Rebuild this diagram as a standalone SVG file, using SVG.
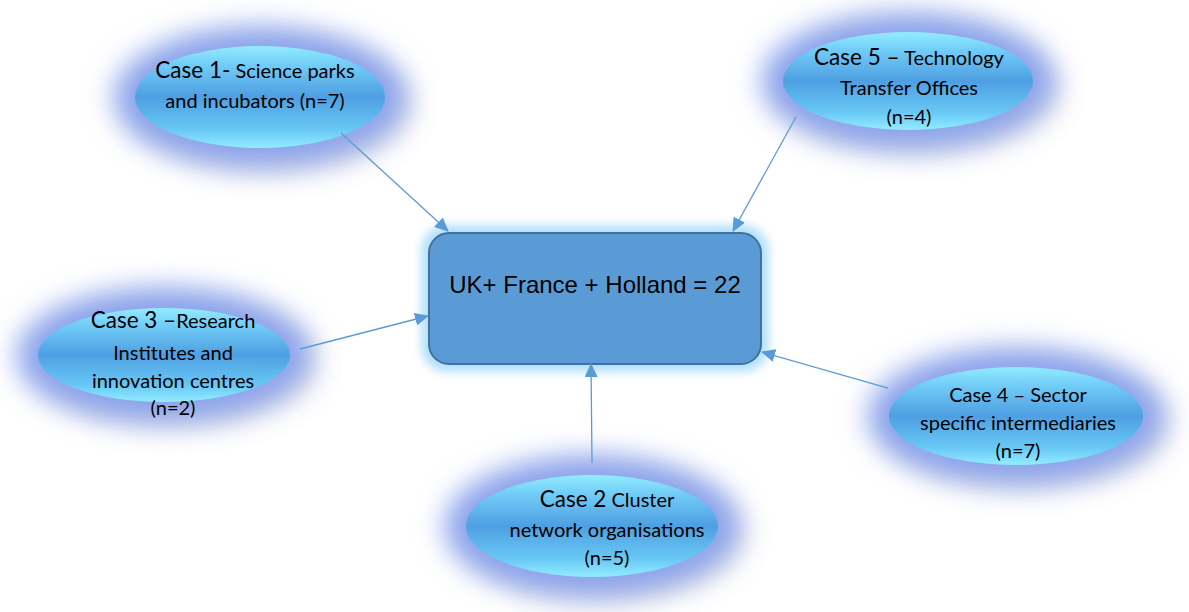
<svg xmlns="http://www.w3.org/2000/svg" width="1189" height="612" viewBox="0 0 1189 612">
<style>
  .halo { fill: #8AA3EC; filter: url(#blur16); }
  .shadow { fill: #9A9CAE; opacity: 0.4; filter: url(#blur16); }
  .ell { fill: url(#ellGrad); }
  .t { font-family: Lato, "Noto Sans", "Liberation Sans", sans-serif; font-size: 20px; fill: #000; text-anchor: middle; }
  .big { font-size: 22.5px; }
  .conn { stroke: #5B9BD5; stroke-width: 1.3; fill: none; marker-end: url(#arrow); }
  .boxglow { fill: #B2E0FA; filter: url(#blur6); }
  .box { fill: #5B9BD5; stroke: #41719C; stroke-width: 2; }
  .boxt { font-family: "Liberation Sans", Arial, sans-serif; font-size: 24px; fill: #000; text-anchor: middle; }
</style>
<defs>
  <filter id="blur16" x="-50%" y="-50%" width="200%" height="200%"><feGaussianBlur stdDeviation="14"/></filter>
  <filter id="blur6" x="-30%" y="-30%" width="160%" height="160%"><feGaussianBlur stdDeviation="5"/></filter>
  <linearGradient id="ellGrad" x1="0" y1="0" x2="0" y2="1">
    <stop offset="0" stop-color="#93ECFF"/>
    <stop offset="0.18" stop-color="#72CDF7"/>
    <stop offset="0.5" stop-color="#4E9FE2"/>
    <stop offset="0.82" stop-color="#68C8F5"/>
    <stop offset="1" stop-color="#93ECFF"/>
  </linearGradient>
  <marker id="arrow" viewBox="0 0 14 13" refX="13" refY="6.5" markerWidth="14" markerHeight="13" markerUnits="userSpaceOnUse" orient="auto">
    <path d="M0,0 L14,6.5 L0,13 Z" fill="#5B9BD5"/>
  </marker>
</defs>

<g id="case1">
  <ellipse class="shadow" cx="270" cy="106" rx="140" ry="64"/>
  <ellipse class="halo" cx="260" cy="97" rx="146" ry="70"/>
  <ellipse class="ell" cx="260" cy="97" rx="125" ry="51"/>
  <text class="t" x="255" y="78"><tspan class="big">Case 1-</tspan> Science parks</text>
  <text class="t" x="255" y="108">and incubators (n=7)</text>
</g>

<g id="case5">
  <ellipse class="shadow" cx="918" cy="90" rx="140" ry="62"/>
  <ellipse class="halo" cx="908" cy="81" rx="146" ry="68"/>
  <ellipse class="ell" cx="908" cy="81" rx="125" ry="49"/>
  <text class="t" x="909" y="65"><tspan class="big">Case 5 –</tspan> Technology</text>
  <text class="t" x="909" y="95">Transfer Offices</text>
  <text class="t" x="909" y="124">(n=4)</text>
</g>

<g id="case3">
  <ellipse class="shadow" cx="174" cy="364" rx="141" ry="61"/>
  <ellipse class="halo" cx="164" cy="355" rx="147" ry="67"/>
  <ellipse class="ell" cx="164" cy="355" rx="126" ry="47"/>
  <text class="t" x="173" y="328"><tspan class="big">Case 3 –</tspan>Research</text>
  <text class="t" x="173" y="360">Institutes and</text>
  <text class="t" x="173" y="388">innovation centres</text>
  <text class="t" x="173" y="415">(n=2)</text>
</g>

<g id="case4">
  <ellipse class="shadow" cx="1026" cy="425" rx="142" ry="62"/>
  <ellipse class="halo" cx="1016" cy="416" rx="148" ry="68"/>
  <ellipse class="ell" cx="1016" cy="416" rx="127" ry="49"/>
  <text class="t" x="1018" y="402">Case 4 – Sector</text>
  <text class="t" x="1018" y="430">specific intermediaries</text>
  <text class="t" x="1018" y="458">(n=7)</text>
</g>

<g id="case2">
  <ellipse class="shadow" cx="602" cy="535" rx="141" ry="64"/>
  <ellipse class="halo" cx="592" cy="526" rx="147" ry="70"/>
  <ellipse class="ell" cx="592" cy="526" rx="126" ry="51"/>
  <text class="t" x="607" y="507"><tspan class="big" font-size="24">Case 2</tspan> Cluster</text>
  <text class="t" x="607" y="537">network organisations</text>
  <text class="t" x="607" y="565">(n=5)</text>
</g>

<g id="center">
  <rect class="boxglow" x="421" y="225" width="348" height="147" rx="26"/>
  <rect class="box" x="429" y="233" width="332" height="131" rx="20"/>
  <text class="boxt" x="595" y="293">UK+ France + Holland = 22</text>
</g>

<g id="connectors">
  <line class="conn" x1="341" y1="133" x2="448" y2="231"/>
  <line class="conn" x1="796" y1="117" x2="733" y2="231"/>
  <line class="conn" x1="300" y1="349" x2="428" y2="316"/>
  <line class="conn" x1="888" y1="388" x2="762" y2="352"/>
  <line class="conn" x1="592" y1="463" x2="591" y2="364"/>
</g>
</svg>
